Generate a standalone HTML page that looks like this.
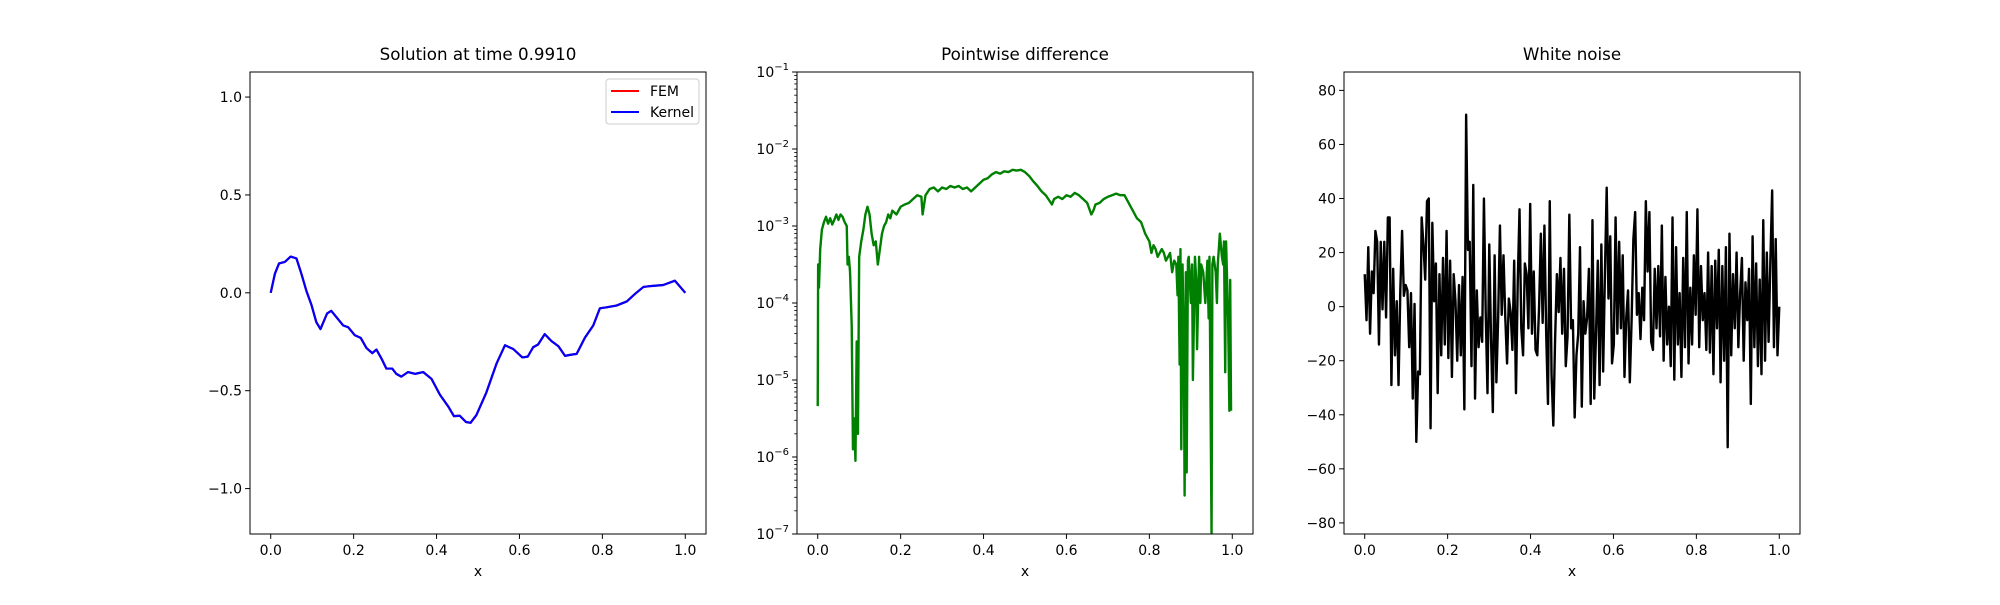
<!DOCTYPE html>
<html><head><meta charset="utf-8"><style>
body{margin:0;background:#fff}
svg text{font-family:"DejaVu Sans","Liberation Sans",sans-serif;fill:#000}
</style></head><body>
<svg id="fig" width="2000" height="600" xmlns="http://www.w3.org/2000/svg"></svg>
<script>
// ---------- data ----------
const solX=[0,0.01,0.02,0.034,0.048,0.062,0.074,0.086,0.098,0.11,0.12,0.136,0.146,0.158,0.175,0.187,0.203,0.217,0.231,0.245,0.255,0.267,0.279,0.293,0.303,0.315,0.331,0.348,0.368,0.388,0.408,0.428,0.442,0.456,0.471,0.482,0.496,0.52,0.545,0.565,0.585,0.607,0.62,0.633,0.645,0.661,0.677,0.694,0.71,0.722,0.738,0.758,0.778,0.794,0.81,0.834,0.859,0.879,0.899,0.919,0.947,0.975,1.0];
const solY=[0,0.097,0.15,0.158,0.185,0.176,0.097,0.01,-0.06,-0.15,-0.185,-0.105,-0.092,-0.123,-0.167,-0.176,-0.217,-0.23,-0.282,-0.308,-0.29,-0.335,-0.387,-0.387,-0.414,-0.428,-0.405,-0.414,-0.405,-0.44,-0.52,-0.58,-0.63,-0.628,-0.66,-0.664,-0.625,-0.51,-0.36,-0.268,-0.287,-0.33,-0.326,-0.278,-0.264,-0.211,-0.246,-0.273,-0.322,-0.317,-0.312,-0.229,-0.167,-0.079,-0.074,-0.065,-0.044,-0.005,0.03,0.035,0.04,0.062,0];
const diffX=[0,0.001,0.003,0.006,0.01,0.015,0.02,0.025,0.03,0.035,0.04,0.045,0.05,0.055,0.06,0.065,0.07,0.072,0.075,0.078,0.082,0.085,0.088,0.091,0.094,0.097,0.1,0.105,0.11,0.115,0.12,0.125,0.13,0.135,0.14,0.145,0.15,0.155,0.16,0.165,0.17,0.175,0.18,0.19,0.2,0.21,0.22,0.23,0.24,0.25,0.253,0.26,0.27,0.28,0.29,0.3,0.31,0.32,0.33,0.34,0.35,0.36,0.37,0.38,0.39,0.4,0.41,0.42,0.43,0.44,0.45,0.46,0.47,0.48,0.49,0.5,0.51,0.52,0.53,0.54,0.55,0.56,0.565,0.57,0.58,0.59,0.6,0.61,0.62,0.63,0.64,0.65,0.66,0.665,0.67,0.68,0.69,0.7,0.71,0.72,0.73,0.74,0.75,0.76,0.77,0.78,0.79,0.8,0.805,0.81,0.815,0.82,0.83,0.835,0.84,0.85,0.855,0.86,0.865,0.868,0.87,0.873,0.875,0.877,0.88,0.883,0.885,0.888,0.89,0.893,0.895,0.9,0.903,0.905,0.91,0.913,0.915,0.92,0.923,0.925,0.93,0.935,0.94,0.943,0.945,0.95,0.952,0.955,0.96,0.963,0.965,0.97,0.975,0.978,0.98,0.983,0.985,0.99,0.993,0.995,0.997,1.0];
const diffLog=[-5.34,-3.5,-3.8,-3.3,-3.05,-2.95,-2.88,-2.97,-2.9,-2.98,-2.92,-2.85,-2.92,-2.85,-2.88,-2.95,-3.0,-3.5,-3.4,-3.6,-4.3,-5.9,-5.5,-6.05,-4.5,-5.7,-3.4,-3.2,-3.05,-2.85,-2.75,-2.85,-3.1,-3.25,-3.2,-3.5,-3.3,-3.1,-3.0,-2.95,-2.85,-2.9,-2.8,-2.85,-2.75,-2.72,-2.7,-2.65,-2.6,-2.62,-2.85,-2.6,-2.52,-2.5,-2.55,-2.5,-2.52,-2.48,-2.5,-2.48,-2.52,-2.5,-2.55,-2.5,-2.45,-2.4,-2.38,-2.33,-2.3,-2.32,-2.29,-2.3,-2.27,-2.28,-2.27,-2.3,-2.35,-2.42,-2.48,-2.55,-2.6,-2.68,-2.72,-2.65,-2.62,-2.65,-2.6,-2.62,-2.57,-2.6,-2.65,-2.7,-2.85,-2.8,-2.72,-2.7,-2.65,-2.62,-2.6,-2.58,-2.6,-2.6,-2.7,-2.8,-2.9,-2.95,-3.1,-3.2,-3.35,-3.25,-3.3,-3.4,-3.3,-3.35,-3.45,-3.35,-3.6,-3.45,-3.5,-3.9,-3.4,-4.8,-3.3,-5.9,-3.5,-4.5,-6.5,-3.6,-6.2,-3.45,-3.4,-4.0,-3.5,-5.0,-3.4,-3.7,-4.6,-3.4,-4.0,-3.5,-3.6,-4.0,-3.45,-4.2,-3.4,-7.0,-3.5,-3.4,-3.6,-4.0,-3.5,-3.1,-3.4,-3.5,-3.2,-4.9,-3.2,-4.2,-5.4,-3.7,-5.4];
const noiseY=[12,-5,22,-10,13,5,28,24,-14,24,-1,24,-4,33,33,-29,14,-18,2,-29,6,28,4,8,6,-15,5,-34,1,-50,-24,-25,33,23,10,39,40,-45,31,2,16,-32,12,-18,18,-14,28,-19,17,-26,12,2,-20,8,-18,11,-38,71,21,24,-22,45,-34,6,-15,-4,-13,40,-2,-32,23,-12,-39,19,-28,-4,30,-3,19,-4,-21,3,-2,-16,17,-32,9,36,-8,-18,16,12,-8,38,-10,13,-16,-18,0,27,-6,30,-10,-36,39,-25,-44,-12,12,-2,18,-10,14,-22,-11,34,-8,-5,-41,-18,-10,22,-37,2,-10,-4,14,-36,32,-34,-10,17,-29,23,-24,12,44,3,26,-21,-14,33,-10,24,-8,19,-26,-4,6,-28,-5,25,35,-3,5,-12,7,-5,39,13,35,-13,-16,14,-8,15,-11,30,-20,11,-14,0,-22,33,-27,22,-14,5,-26,18,-15,35,-21,7,-14,19,-3,36,-15,15,-5,5,-16,20,-17,15,-25,17,-8,21,-28,15,-20,22,-52,27,-18,12,-8,20,-15,5,18,-20,9,-5,14,-36,26,-15,16,-22,10,-25,32,-20,20,-13,17,43,-15,25,-18,0];
const tickX=[0,0.2,0.4,0.6,0.8,1.0];
const tickXLab=["0.0","0.2","0.4","0.6","0.8","1.0"];
const solTicks=[-1,-0.5,0,0.5,1];
const solTickLab=["\u22121.0","\u22120.5","0.0","0.5","1.0"];
const logTicks=[-7,-6,-5,-4,-3,-2,-1];
const noiseTicks=[-80,-60,-40,-20,0,20,40,60,80];
const noiseTickLab=["\u221280","\u221260","\u221240","\u221220","0","20","40","60","80"];

// ---------- helpers ----------
const svg=document.getElementById('fig');
const NS="http://www.w3.org/2000/svg";
function mk(tag,attrs,parent,txt){const e=document.createElementNS(NS,tag);for(const k in attrs)e.setAttribute(k,attrs[k]);if(txt!==undefined)e.textContent=txt;(parent||svg).appendChild(e);return e;}
const TOP=72,BOT=534;
function axes(name,x0,x1,ymin,ymax,title){
  const g=mk('g',{});
  
  
  const sx=v=>x0+(v+0.05)/1.1*(x1-x0);
  const sy=v=>BOT-(v-ymin)/(ymax-ymin)*(BOT-TOP);
  const t=mk('text',{x:(x0+x1)/2,y:TOP-12,'text-anchor':'middle','font-size':'16.7'},g,title);
  
  
  const xl=mk('text',{x:(x0+x1)/2,y:576,'text-anchor':'middle','font-size':'14'},g,'x');
  
  
  tickX.forEach((v,i)=>{const X=sx(v);mk('line',{x1:X,x2:X,y1:BOT,y2:BOT+4.9,stroke:'#000','stroke-width':1},g);
    const l=mk('text',{x:X,y:BOT+21,'text-anchor':'middle','font-size':'14'},g,tickXLab[i]);
    
    });
  return {g,sx,sy,x0,x1};
}
function frame(a){const r=mk('rect',{x:a.x0,y:TOP,width:a.x1-a.x0,height:BOT-TOP,fill:'none',stroke:'#000','stroke-width':1},a.g);
  
  }
function yticks(a,vals,labs){vals.forEach((v,i)=>{const Y=a.sy(v);mk('line',{x1:a.x0-4.9,x2:a.x0,y1:Y,y2:Y,stroke:'#000'},a.g);
  const l=mk('text',{x:a.x0-8,y:Y+5,'text-anchor':'end','font-size':'14'},a.g,labs[i]);
  
  });}
function line(a,xs,ys,color,w,name){const d=xs.map((x,i)=>(i?'L':'M')+a.sx(x).toFixed(2)+' '+a.sy(ys[i]).toFixed(2)).join(' ');
  const p=mk('path',{d,fill:'none',stroke:color,'stroke-width':w,'stroke-linejoin':'round'},a.g);
  
  
  return p;}

// ---------- panel 1 ----------
const a1=axes('solution-panel',250,706,-1.232,1.128,'Solution at time 0.9910');
yticks(a1,solTicks,solTickLab);
line(a1,solX,solY,'#ff0000',2.2,'fem-line');
line(a1,solX,solY,'#0000ff',2.2,'kernel-line');
frame(a1);
const lg=mk('g',{},a1.g);


mk('rect',{x:606,y:79,width:93,height:45,rx:3,fill:'#fff','fill-opacity':0.8,stroke:'#ccc'},lg);
mk('line',{x1:611,x2:639,y1:91,y2:91,stroke:'#ff0000','stroke-width':2},lg);
mk('line',{x1:611,x2:639,y1:112,y2:112,stroke:'#0000ff','stroke-width':2},lg);
const le1=mk('text',{x:650,y:96,'font-size':'14'},lg,'FEM');


const le2=mk('text',{x:650,y:117,'font-size':'14'},lg,'Kernel');



// ---------- panel 2 ----------
const a2=axes('difference-panel',797,1253,-7,-1,'Pointwise difference');
for(let d=-7;d<-1;d++){for(let m=2;m<10;m++){const Y=a2.sy(d+Math.log10(m));mk('line',{x1:797-2.8,x2:797,y1:Y,y2:Y,stroke:'#000','stroke-width':0.8},a2.g);}}
logTicks.forEach(v=>{const Y=a2.sy(v);mk('line',{x1:797-4.9,x2:797,y1:Y,y2:Y,stroke:'#000'},a2.g);
  const t=mk('text',{x:789,y:Y+5,'text-anchor':'end','font-size':'14'},a2.g);
  
  
  mk('tspan',{},t,'10');mk('tspan',{dy:-7,'font-size':'10'},t,'\u2212'+(-v));});
const cp2=mk('clipPath',{id:'c2'},a2.g);mk('rect',{x:797,y:TOP,width:456,height:BOT-TOP},cp2);
const gp=mk('g',{'clip-path':'url(#c2)'},a2.g);
const dl=line(a2,diffX,diffLog,'#008000',2.4,'difference-line');gp.appendChild(dl);
frame(a2);

// ---------- panel 3 ----------
const a3=axes('white-noise-panel',1344,1800,-84.1,86.8,'White noise');
yticks(a3,noiseTicks,noiseTickLab);
const noiseX=noiseY.map((_,i)=>i/(noiseY.length-1));
line(a3,noiseX,noiseY,'#000',2.4,'noise-line');
frame(a3);
</script>
</body></html>
